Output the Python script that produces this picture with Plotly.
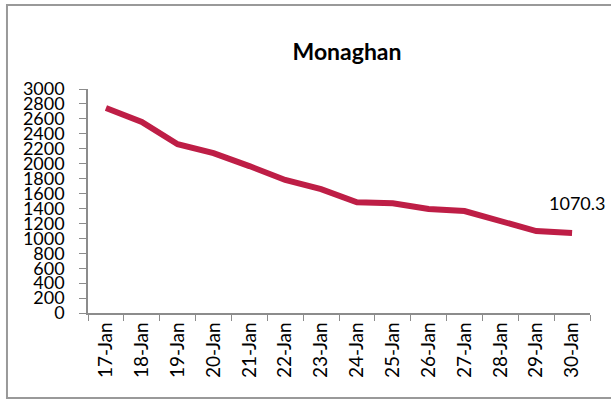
import plotly.graph_objects as go

dates = ["17-Jan", "18-Jan", "19-Jan", "20-Jan", "21-Jan", "22-Jan", "23-Jan",
         "24-Jan", "25-Jan", "26-Jan", "27-Jan", "28-Jan", "29-Jan", "30-Jan"]
values = [2745, 2560, 2260, 2140, 1968, 1782, 1658,
          1483, 1470, 1394, 1366, 1222, 1097, 1070.3]
title_text = "Monaghan"
last_label = "1070.3"
y_ticks = list(range(0, 3001, 200))

FONT = "Lato, 'Open Sans', sans-serif"
LINE_COLOR = "#BE1E46"
AXIS_COLOR = "#8C8C8C"

fig = go.Figure()
fig.add_trace(go.Scatter(
    x=dates, y=values, mode="lines",
    line=dict(color=LINE_COLOR, width=6),
    hoverinfo="skip", showlegend=False,
))

fig.add_annotation(
    x=dates[-1], y=values[-1], text=last_label, showarrow=False,
    xshift=5, yshift=30, font=dict(family=FONT, size=18, color="#000000"),
)

fig.update_layout(
    width=611, height=400,
    margin=dict(l=88, r=21, t=89, b=87, autoexpand=False),
    paper_bgcolor="white", plot_bgcolor="white",
    title=dict(text="<b>" + title_text + "</b>", x=347 / 611, xanchor="center",
               y=1 - 52 / 400, yanchor="middle",
               font=dict(family=FONT, size=23, color="#000000")),
    font=dict(family=FONT, color="#000000"),
    shapes=[dict(type="rect", xref="paper", yref="paper",
                 x0=-0.1614, x1=1.12, y0=-0.38, y1=1.375,
                 line=dict(color="#999999", width=2))],
)

fig.update_xaxes(
    type="category", tickson="boundaries", ticks="outside", ticklen=6,
    tickcolor=AXIS_COLOR, showline=True, linecolor=AXIS_COLOR, linewidth=1.5,
    showgrid=False, tickangle=-90, tickfont=dict(family=FONT, size=19),
    range=[-0.5, len(dates) - 0.5], automargin=False,
)
fig.update_yaxes(
    range=[0, 3000], tickvals=y_ticks, ticks="outside", ticklen=7,
    tickcolor=AXIS_COLOR, showline=True, linecolor=AXIS_COLOR, linewidth=1.5,
    showgrid=False, zeroline=False, tickfont=dict(family=FONT, size=18),
    ticklabelstandoff=11, automargin=False,
)

fig.write_html("out.html", config={"displayModeBar": False},
               post_script="document.body.style.margin='0';")
